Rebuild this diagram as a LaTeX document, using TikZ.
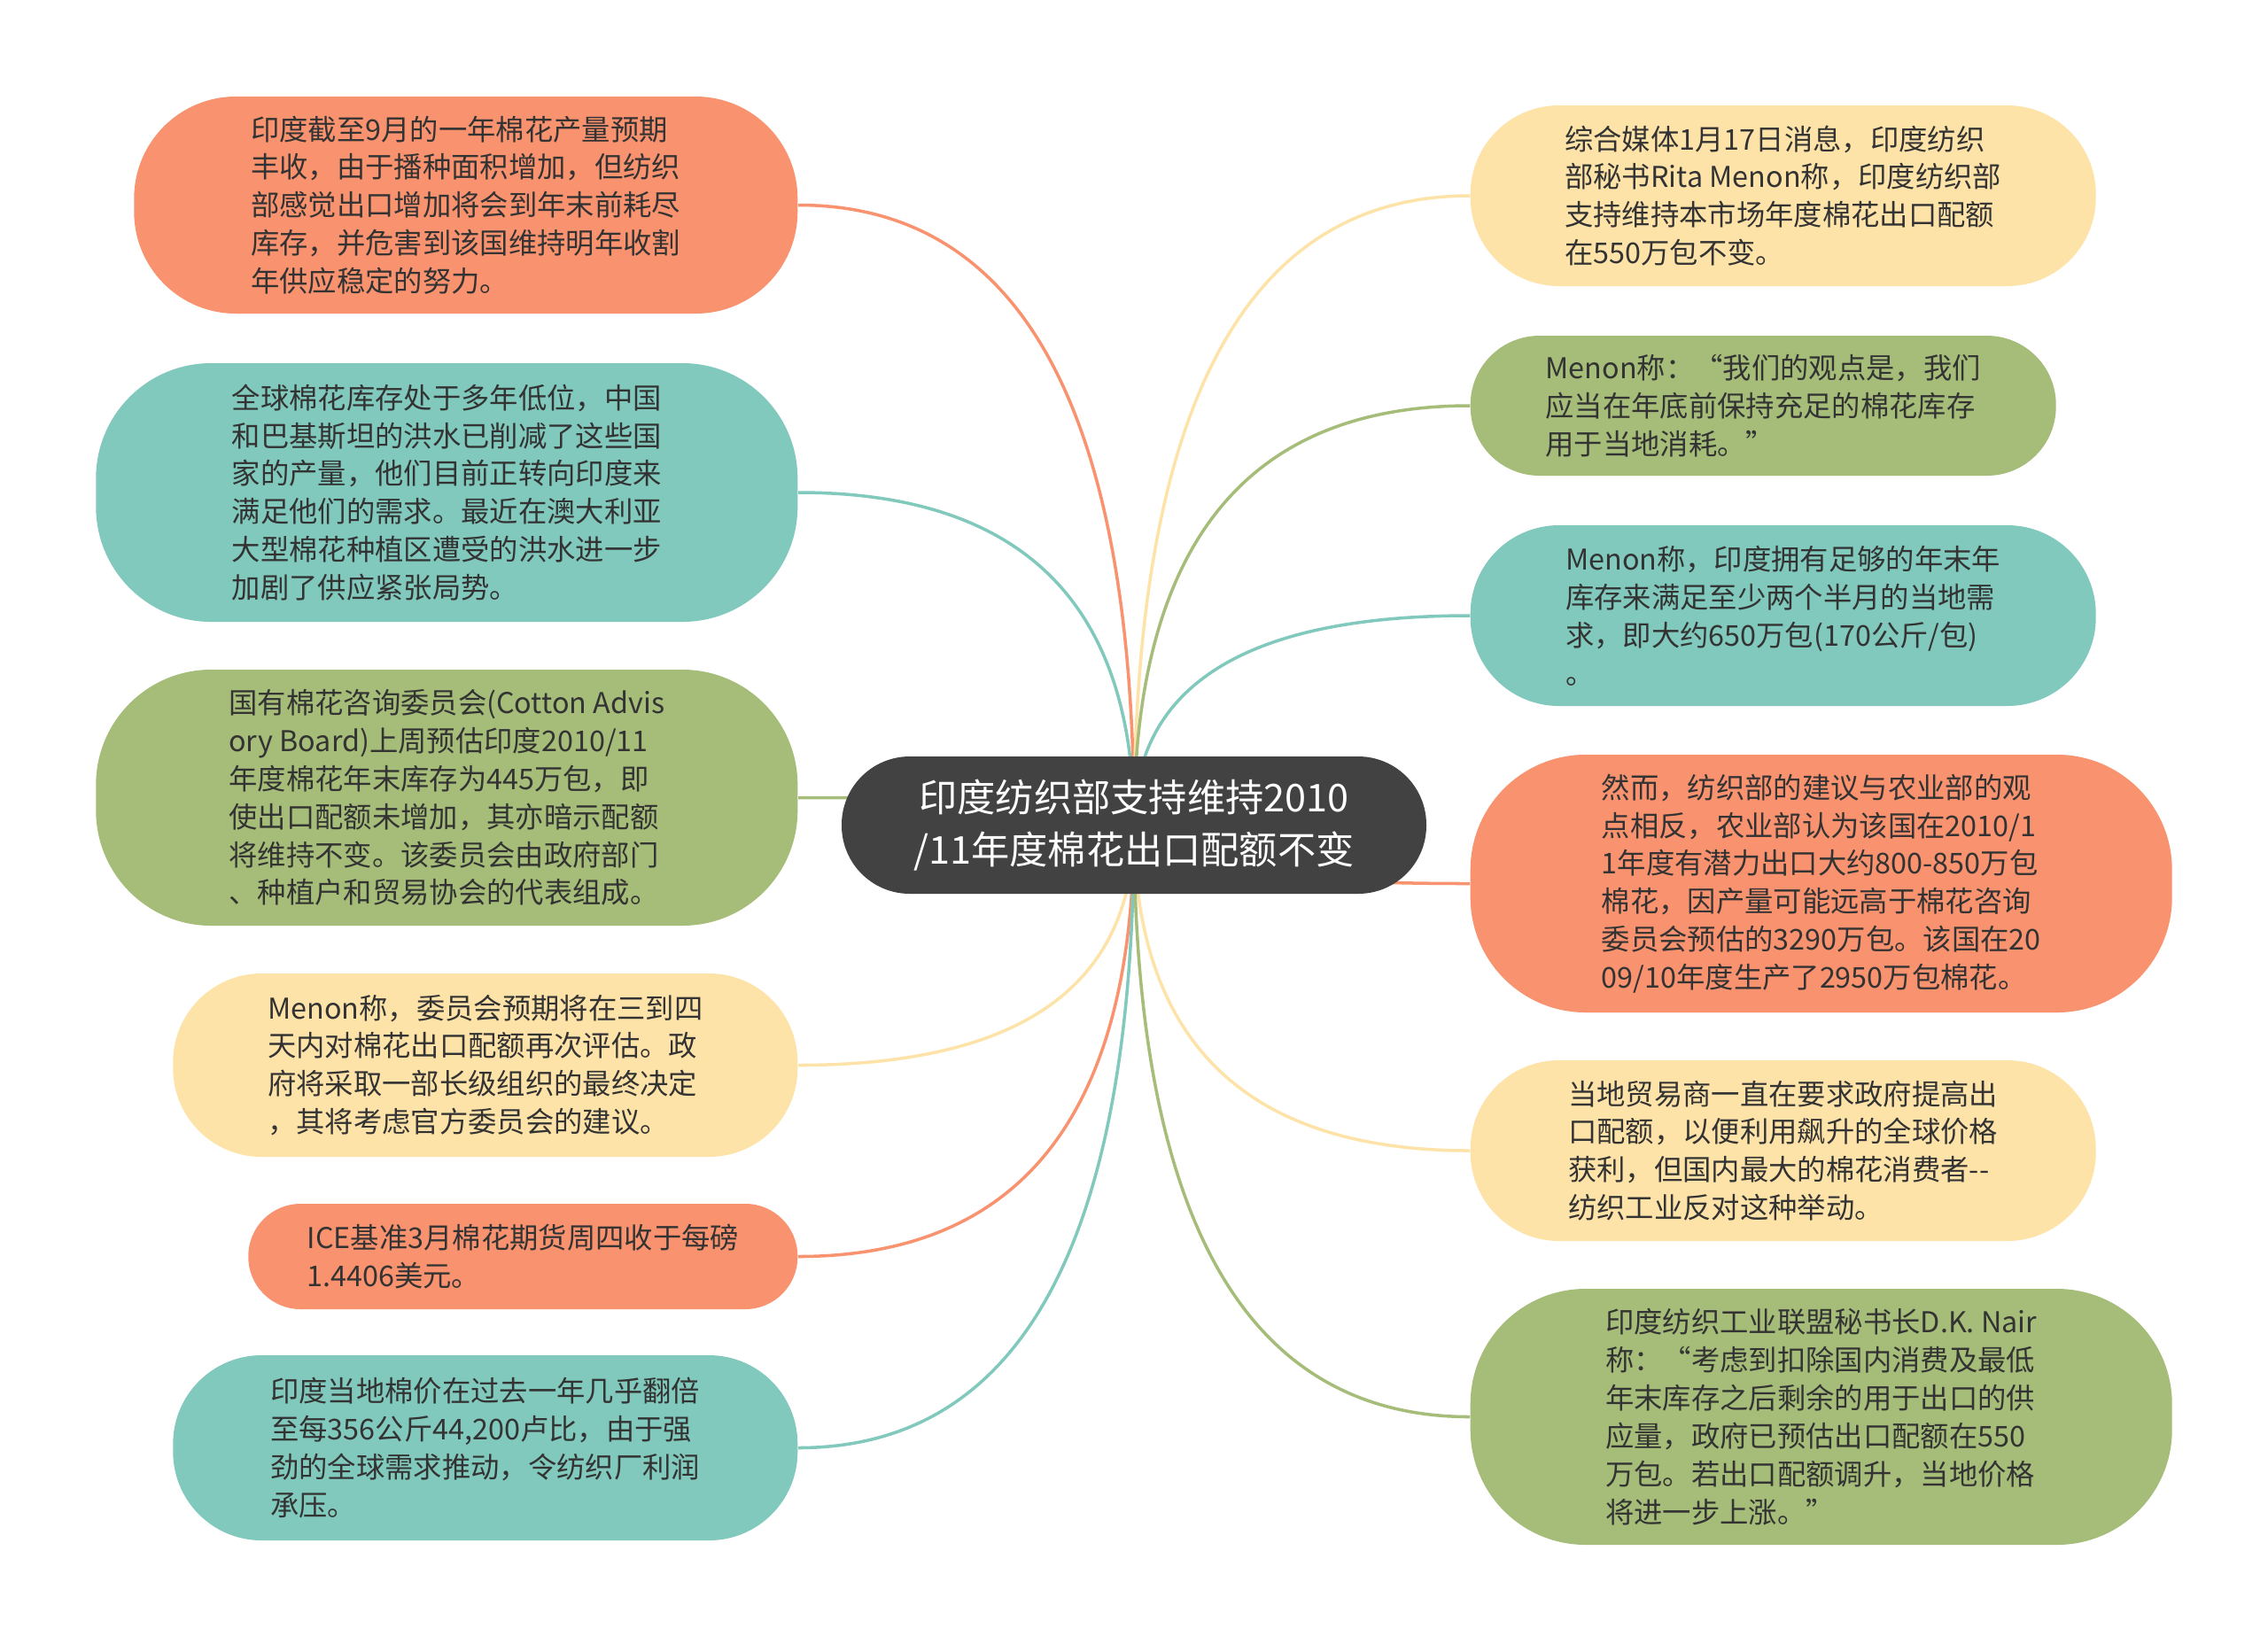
\documentclass[tikz,border=0pt]{standalone}
\usepackage{fontspec}
\setmainfont{Noto Sans CJK SC}
\usepackage{xcolor}
\usetikzlibrary{shapes,positioning,backgrounds,calc}

\definecolor{mmSalmon}{HTML}{F8926F}
\definecolor{mmTeal}{HTML}{80C9BC}
\definecolor{mmGreen}{HTML}{A5BD78}
\definecolor{mmYellow}{HTML}{FEE3A9}
\definecolor{mmHub}{HTML}{424242}
\definecolor{mmText}{HTML}{333333}

% quadratic branch from the hub centre to a leaf anchor
\newcommand{\branch}[2]{%
  \draw[edge, #1] (hub.center) .. controls ($(hub.center)!2/3!(hub.center |- #2)$) and ($(#2)!2/3!(hub.center |- #2)$) .. (#2);}

\begin{document}
\begin{tikzpicture}[
    leaf/.style={rectangle, inner sep=0pt, align=left, text=mmText, font=\fontsize{9.2}{12.2}\selectfont},
    hubbox/.style={rectangle, inner sep=0pt, align=center, text=white, fill=mmHub, font=\fontsize{12.3}{16.7}\selectfont},
    edge/.style={line width=1pt}
]
    \useasboundingbox (0,0) rectangle (25.6,-18.55);

    \node[hubbox, minimum width=6.6cm, minimum height=1.55cm, rounded corners=0.77cm] (hub) at (12.8,-9.315) {印度纺织部支持维持2010\\/11年度棉花出口配额不变};

    % left side
    \node[leaf, fill=mmSalmon, minimum width=7.49cm, minimum height=2.45cm, rounded corners=1.15cm, anchor=east] (l1) at (9.01,-2.315) {印度截至9月的一年棉花产量预期\\丰收，由于播种面积增加，但纺织\\部感觉出口增加将会到年末前耗尽\\库存，并危害到该国维持明年收割\\年供应稳定的努力。};
    \node[leaf, fill=mmTeal, minimum width=7.92cm, minimum height=2.92cm, rounded corners=1.3cm, anchor=east] (l2) at (9.01,-5.56) {全球棉花库存处于多年低位，中国\\和巴基斯坦的洪水已削减了这些国\\家的产量，他们目前正转向印度来\\满足他们的需求。最近在澳大利亚\\大型棉花种植区遭受的洪水进一步\\加剧了供应紧张局势。};
    \node[leaf, fill=mmGreen, minimum width=7.92cm, minimum height=2.89cm, rounded corners=1.3cm, anchor=east] (l3) at (9.01,-9.005) {国有棉花咨询委员会(Cotton Advis\\ory Board)上周预估印度2010/11\\年度棉花年末库存为445万包，即\\使出口配额未增加，其亦暗示配额\\将维持不变。该委员会由政府部门\\、种植户和贸易协会的代表组成。};
    \node[leaf, fill=mmYellow, minimum width=7.05cm, minimum height=2.07cm, rounded corners=1cm, anchor=east] (l4) at (9.01,-12.025) {Menon称，委员会预期将在三到四\\天内对棉花出口配额再次评估。政\\府将采取一部长级组织的最终决定\\，其将考虑官方委员会的建议。};
    \node[leaf, fill=mmSalmon, minimum width=6.2cm, minimum height=1.19cm, rounded corners=0.59cm, anchor=east] (l5) at (9.01,-14.185) {ICE基准3月棉花期货周四收于每磅\\1.4406美元。};
    \node[leaf, fill=mmTeal, minimum width=7.05cm, minimum height=2.09cm, rounded corners=1cm, anchor=east] (l6) at (9.01,-16.345) {印度当地棉价在过去一年几乎翻倍\\至每356公斤44,200卢比，由于强\\劲的全球需求推动，令纺织厂利润\\承压。};

    % right side
    \node[leaf, fill=mmYellow, minimum width=7.06cm, minimum height=2.04cm, rounded corners=1cm, anchor=west] (r1) at (16.59,-2.21) {综合媒体1月17日消息，印度纺织\\部秘书Rita Menon称，印度纺织部\\支持维持本市场年度棉花出口配额\\在550万包不变。};
    \node[leaf, fill=mmGreen, minimum width=6.61cm, minimum height=1.58cm, rounded corners=0.78cm, anchor=west] (r2) at (16.59,-4.58) {Menon称：“我们的观点是，我们\\应当在年底前保持充足的棉花库存\\用于当地消耗。”};
    \node[leaf, fill=mmTeal, minimum width=7.06cm, minimum height=2.04cm, rounded corners=1cm, anchor=west] (r3) at (16.59,-6.95) {Menon称，印度拥有足够的年末年\\库存来满足至少两个半月的当地需\\求，即大约650万包(170公斤/包)\\。};
    \node[leaf, fill=mmSalmon, minimum width=7.92cm, minimum height=2.91cm, rounded corners=1.3cm, anchor=west] (r4) at (16.59,-9.975) {然而，纺织部的建议与农业部的观\\点相反，农业部认为该国在2010/1\\1年度有潜力出口大约800-850万包\\棉花，因产量可能远高于棉花咨询\\委员会预估的3290万包。该国在20\\09/10年度生产了2950万包棉花。};
    \node[leaf, fill=mmYellow, minimum width=7.06cm, minimum height=2.04cm, rounded corners=1cm, anchor=west] (r5) at (16.59,-12.99) {当地贸易商一直在要求政府提高出\\口配额，以便利用飙升的全球价格\\获利，但国内最大的棉花消费者-{}-\\纺织工业反对这种举动。};
    \node[leaf, fill=mmGreen, minimum width=7.92cm, minimum height=2.89cm, rounded corners=1.3cm, anchor=west] (r6) at (16.59,-15.995) {印度纺织工业联盟秘书长D.K. Nair\\称：“考虑到扣除国内消费及最低\\年末库存之后剩余的用于出口的供\\应量，政府已预估出口配额在550\\万包。若出口配额调升，当地价格\\将进一步上涨。”};

    \begin{scope}[on background layer]
    \fill[white] (0,0) rectangle (25.6,-18.55);
    \branch{mmSalmon}{l1.east}
    \branch{mmTeal}{l2.east}
    \branch{mmGreen}{l3.east}
    \branch{mmYellow}{l4.east}
    \branch{mmSalmon}{l5.east}
    \branch{mmTeal}{l6.east}
    \branch{mmYellow}{r1.west}
    \branch{mmGreen}{r2.west}
    \branch{mmTeal}{r3.west}
    \branch{mmSalmon}{r4.west}
    \branch{mmYellow}{r5.west}
    \branch{mmGreen}{r6.west}
    \end{scope}
\end{tikzpicture}
\end{document}
